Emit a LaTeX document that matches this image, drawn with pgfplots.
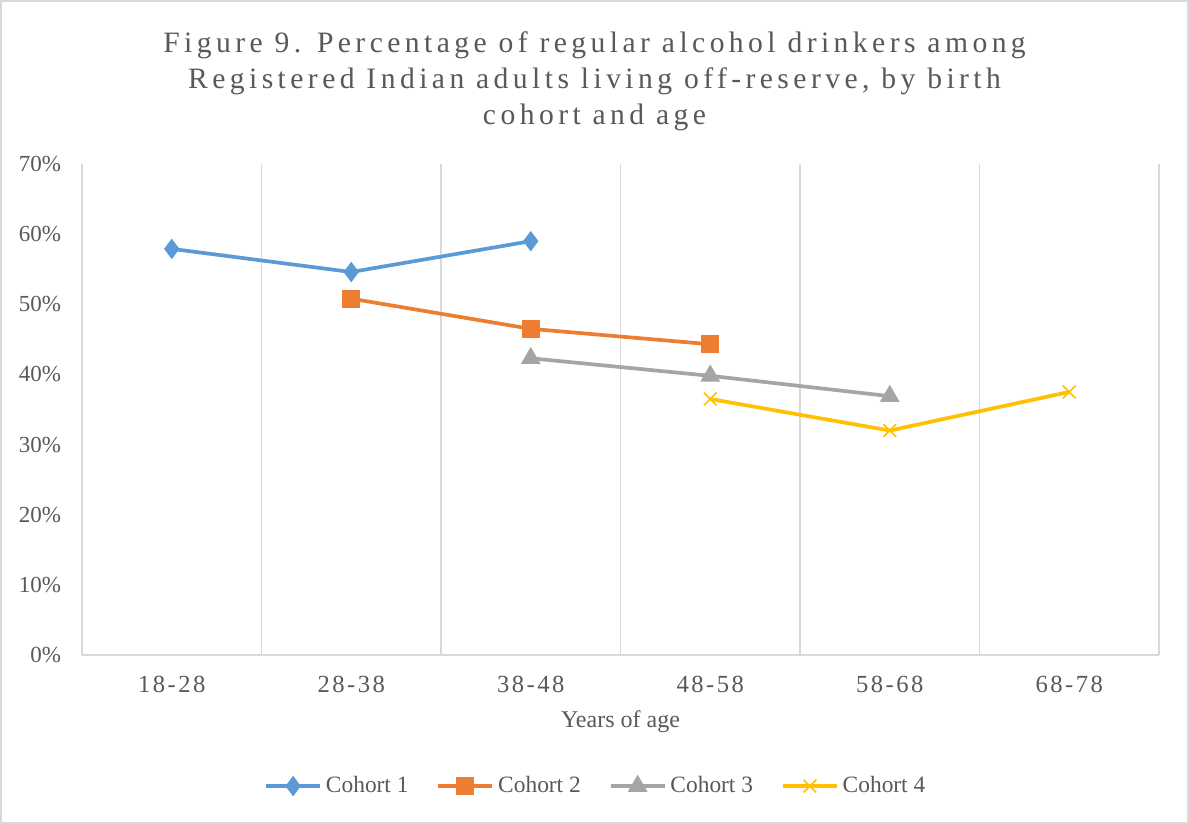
\documentclass[border=0pt]{standalone}
\usepackage{pgfplots}
\pgfplotsset{compat=1.18}
\usepackage{fontspec}
\setmainfont{Liberation Serif}
\newfontfamily\spaced[LetterSpace=15]{Liberation Serif}
\newfontfamily\tickspaced[LetterSpace=10]{Liberation Serif}

\definecolor{txtgray}{HTML}{595959}
\definecolor{gridgray}{HTML}{D9D9D9}
\definecolor{c1}{HTML}{5B9BD5}
\definecolor{c2}{HTML}{ED7D31}
\definecolor{c3}{HTML}{A5A5A5}
\definecolor{c4}{HTML}{FFC000}

\begin{document}
\begin{tikzpicture}
  % chart area frame (1px = 0.5pt)
  \draw[gridgray, line width=0.8pt, fill=white] (0.4pt,0.4pt) rectangle (594.1pt,411.6pt);
  \useasboundingbox (0,0) rectangle (594.5pt,412pt);

  \node[font=\spaced\fontsize{14.8}{18}\selectfont, text=txtgray, align=center, anchor=north]
    at (297.25pt,399.5pt)
    {Figure 9. Percentage of regular alcohol drinkers among\\
     Registered Indian adults living off-reserve, by birth\\
     cohort and age};

  \begin{axis}[
      at={(41pt,84.5pt)}, anchor=south west,
      scale only axis,
      width=538.5pt, height=245.5pt,
      xmin=-0.5, xmax=5.5,
      ymin=0, ymax=70,
      xtick={0,1,2,3,4,5},
      xticklabels={18-28,28-38,38-48,48-58,58-68,68-78},
      x tick label style={font=\tickspaced\fontsize{12.3}{14}\selectfont, text=txtgray, yshift=-7pt},
      minor xtick={-0.5,0.5,1.5,2.5,3.5,4.5,5.5},
      xminorgrids=true,
      minor grid style={gridgray, line width=0.6pt},
      ytick={0,10,20,30,40,50,60,70},
      yticklabels={0\%,10\%,20\%,30\%,40\%,50\%,60\%,70\%},
      y tick label style={font=\fontsize{11.5}{13}\selectfont, text=txtgray, xshift=-7pt},
      major tick length=0pt, minor tick length=0pt,
      axis x line*=bottom, axis y line*=left,
      x axis line style={gridgray, line width=0.6pt, -},
      y axis line style={draw=none},
      xlabel={Years of age},
      xlabel style={font=\fontsize{12}{14}\selectfont, text=txtgray, yshift=-2pt},
      clip=false,
      legend columns=4,
      legend style={draw=none, fill=none, at={(0.478,-0.267)}, anchor=center,
        font=\fontsize{11.7}{13}\selectfont, text=txtgray,
        /tikz/every even column/.append style={column sep=12pt}},
      legend image code/.code={
        \draw[mark repeat=2, mark phase=2] plot coordinates {(0pt,0pt) (13.5pt,0pt) (27pt,0pt)};
      },
      every axis plot/.append style={line width=1.85pt},
    ]
    \addplot[c1, mark=diamond*, mark size=4.7pt, mark options={fill=c1, line width=0.5pt}]
      coordinates {(0,57.9) (1,54.6) (2,59.0)};
    \addlegendentry{Cohort 1}
    \addplot[c2, mark=square*, mark size=4.2pt, mark options={fill=c2, line width=0.5pt}]
      coordinates {(1,50.8) (2,46.5) (3,44.3)};
    \addlegendentry{Cohort 2}
    \addplot[c3, mark=triangle*, mark size=5.2pt, mark options={fill=c3, line width=0.5pt}]
      coordinates {(2,42.3) (3,39.8) (4,36.9)};
    \addlegendentry{Cohort 3}
    \addplot[c4, mark=x, mark size=4.5pt, mark options={line width=0.75pt}]
      coordinates {(3,36.5) (4,32.0) (5,37.5)};
    \addlegendentry{Cohort 4}
  \end{axis}
\end{tikzpicture}
\end{document}
